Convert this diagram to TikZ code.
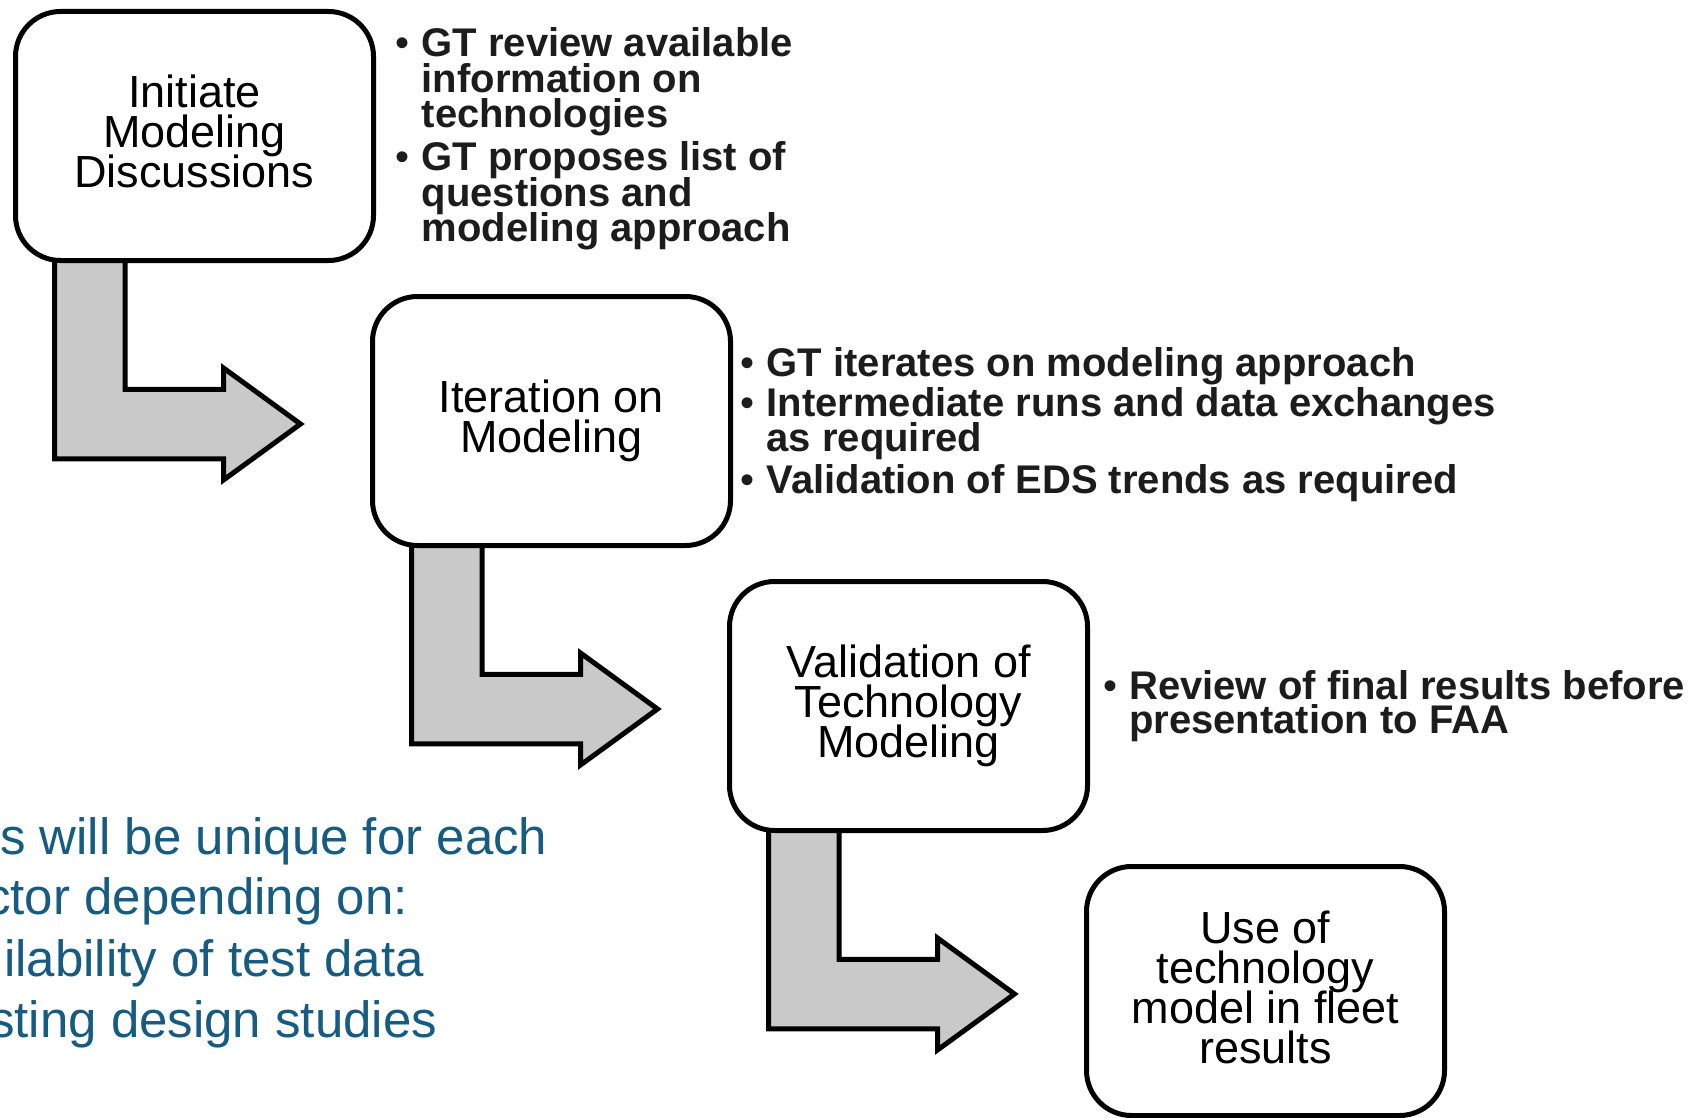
\documentclass[tikz,border=0pt]{standalone}
\usepackage{fontspec}
\setmainfont{Liberation Sans}
\usetikzlibrary{calc}

\definecolor{arrowgray}{RGB}{201,201,201}
\definecolor{noteblue}{RGB}{21,91,130}
\definecolor{itemtext}{RGB}{28,28,28}

% keep the set leading even where tall letters nearly touch
\lineskiplimit=-1000pt

\pgfdeclarelayer{paper}
\pgfdeclarelayer{behind}
\pgfsetlayers{paper,behind,main}

% bullet hung to the left of the first line of an item
\newcommand{\itemdot}{\llap{\mdseries\textbullet\hspace{12pt}}}
% extra depth below a label, lifting it inside its box
\newcommand{\lift}[1]{\rule[-#1]{0pt}{0pt}}

% bent block arrow leaving the bottom of #1 and pointing at the left side of #2
\newcommand{\stagearrow}[2]{%
  \coordinate (tip-#1) at ($(#2.west)+(-69.5,3)$);
  \coordinate (top-#1) at ($(#1.south west)+(41.5,-3)$);
  \draw[flowarrow] (top-#1) -- ($(top-#1)+(70.5,0)$)
    -- ($(top-#1 |- tip-#1)+(70.5,-34.75)$)
    -- ($(tip-#1)+(-77,-34.75)$) -- ($(tip-#1)+(-77,-56)$)
    -- (tip-#1)
    -- ($(tip-#1)+(-77,56)$) -- ($(tip-#1)+(-77,34.75)$)
    -- ($(top-#1 |- tip-#1)+(0,34.75)$) -- cycle;
}

\tikzset{
  stage/.style={draw=black, line width=5pt, fill=white, rounded corners=45pt,
    minimum width=358pt, minimum height=249pt, inner sep=0pt, align=center,
    font=\fontsize{45}{40}\selectfont, text=black},
  flowarrow/.style={draw=black, line width=5pt, fill=arrowgray, line join=miter},
  % multi-line items are placed by the baseline of their last line
  item/.style={anchor=base west, inner sep=0pt, align=left, text=itemtext,
    font=\fontsize{40}{34.5}\selectfont\bfseries},
  note/.style={anchor=base west, inner sep=0pt, text=noteblue,
    font=\fontsize{51}{60}\selectfont},
}

\begin{document}
\begin{tikzpicture}[x=1pt, y=-1pt]
  \useasboundingbox (0,0) rectangle (1699,1118);
  \begin{pgfonlayer}{paper}
    \fill[white] (0,0) rectangle (1699,1118);
  \end{pgfonlayer}

  % process stages
  \node[stage] (s1) at (194.5,136) {Initiate\\Modeling\\Discussions\lift{10pt}};
  \node[stage] (s2) at (551.5,421) {Iteration on\\Modeling};
  \node[stage] (s3) at (908.5,706) {Validation of\\Technology\\Modeling};
  \node[stage] (s4) at (1265.5,991) {Use of\\technology\\model in fleet\\results\lift{8pt}};

  % arrows between stages
  \begin{pgfonlayer}{behind}
    \stagearrow{s1}{s2}
    \stagearrow{s2}{s3}
    \stagearrow{s3}{s4}
  \end{pgfonlayer}

  % notes beside each stage
  \node[item, font=\fontsize{40}{35.5}\selectfont\bfseries] (r1a) at (421.5,127.7)
    {\itemdot GT review available\\information on\\technologies};
  \node[item, font=\fontsize{40}{35.5}\selectfont\bfseries] (r1b) at (421.5,241.7)
    {\itemdot GT proposes list of\\questions and\\modeling approach};

  \node[item] (r2a) at (766.5,376) {\itemdot GT iterates on modeling approach};
  \node[item] (r2b) at (766.5,451) {\itemdot Intermediate runs and data exchanges\\as required};
  \node[item] (r2c) at (766.5,493.5) {\itemdot Validation of EDS trends as required};

  \node[item] (r3a) at (1129,733.5) {\itemdot Review of final results before\\presentation to FAA};

  % remark running off the left edge
  \begin{scope}
    \clip (0,0) rectangle (1699,1118);
    \node[note] (n1) at (0,854) {s will be unique for each};
    \node[note] (n2) at (-15,914) {ctor depending on:};
    \node[note] (n3) at (4,976) {ilability of test data};
    \node[note] (n4) at (-11,1037) {sting design studies};
  \end{scope}
\end{tikzpicture}
\end{document}
